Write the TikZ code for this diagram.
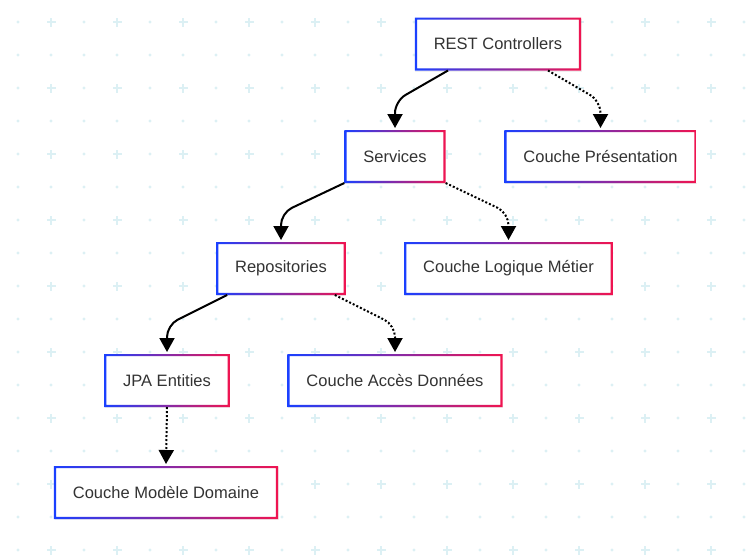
\documentclass[tikz,border=0pt]{standalone}
\usepackage{fontspec}
\setmainfont{Liberation Sans}
\usetikzlibrary{arrows.meta,shadows}
\definecolor{edgeblue}{RGB}{26,64,255}
\definecolor{edgered}{RGB}{240,20,80}
\definecolor{gridcyan}{RGB}{220,240,244}
\definecolor{labelgray}{RGB}{51,51,51}
\newcommand{\Frame}[1]{\shade[left color=edgeblue, right color=edgered, even odd rule]
  (#1.south west) rectangle (#1.north east)
  ([shift={(2.2pt,2.2pt)}]#1.south west) rectangle ([shift={(-2.2pt,-2.2pt)}]#1.north east);}

\begin{document}
\begin{tikzpicture}[x=1pt, y=-1pt,
  layer/.style={fill=white, text=labelgray, inner xsep=19pt, inner ysep=0pt,
    minimum height=53pt, outer sep=0pt, font=\fontsize{16.5}{20}\selectfont,
    drop shadow={opacity=0.12, shadow xshift=0.6pt, shadow yshift=-1.4pt}},
  uses/.style={line width=2pt, rounded corners=12pt, -{Triangle[length=14pt,width=15pt]}},
  maps/.style={uses, dash pattern=on 2pt off 2pt}]

  \useasboundingbox[fill=white] (0,0) rectangle (746,558);

  %% background dots and crosses
  \foreach \i in {0,...,22}{
    \foreach \j in {0,...,16}{
      \ifodd\i
        \ifodd\j
          \fill[gridcyan] ({18+33*\i},{22+33*\j}) circle (1.6pt);
        \else
          \fill[gridcyan] ({18+33*\i-4.5},{22+33*\j-1}) rectangle +(9pt,-2pt);
          \fill[gridcyan] ({18+33*\i-1},{22+33*\j-4.5}) rectangle +(2pt,-9pt);
        \fi
      \else
        \fill[gridcyan] ({18+33*\i},{22+33*\j}) circle (1.6pt);
      \fi
    }
  }

  \node[layer] (rest)  at (498,44)    {REST Controllers};
  \node[layer] (serv)  at (395,156.5) {Services};
  \node[layer] (pres)  at (600.5,156.5) {Couche Présentation};
  \node[layer] (repo)  at (281,268.5) {Repositories};
  \node[layer] (logi)  at (508.5,268.5) {Couche Logique Métier};
  \node[layer] (jpa)   at (167,380.5) {JPA Entities};
  \node[layer] (acces) at (395,380.5) {Couche Accès Données};
  \node[layer] (model) at (166,492.5) {Couche Modèle Domaine};

  \foreach \n in {rest,serv,pres,repo,logi,jpa,acces,model}{\Frame{\n}}

  \draw[uses] ([xshift=-50pt]rest.south) -- ([yshift=29pt]serv.north) -- ([yshift=2pt]serv.north); %% rest->serv
  \draw[maps] ([xshift=50pt]rest.south) -- ([yshift=29pt]pres.north) -- ([yshift=2pt]pres.north); %% rest->pres

  \draw[uses] (serv.south west) -- ([yshift=29pt]repo.north) -- ([yshift=2pt]repo.north); %% serv->repo
  \draw[maps] (serv.south east) -- ([yshift=29pt]logi.north) -- ([yshift=2pt]logi.north); %% serv->logi

  \draw[uses] ([xshift=11pt]repo.south west) -- ([yshift=29pt]jpa.north) -- ([yshift=2pt]jpa.north); %% repo->jpa
  \draw[maps] ([xshift=-11pt]repo.south east) -- ([yshift=29pt]acces.north) -- ([yshift=2pt]acces.north); %% repo->acces

  \draw[maps] (jpa.south) -- ([yshift=2pt]model.north); %% jpa->model

\end{tikzpicture}
\end{document}
